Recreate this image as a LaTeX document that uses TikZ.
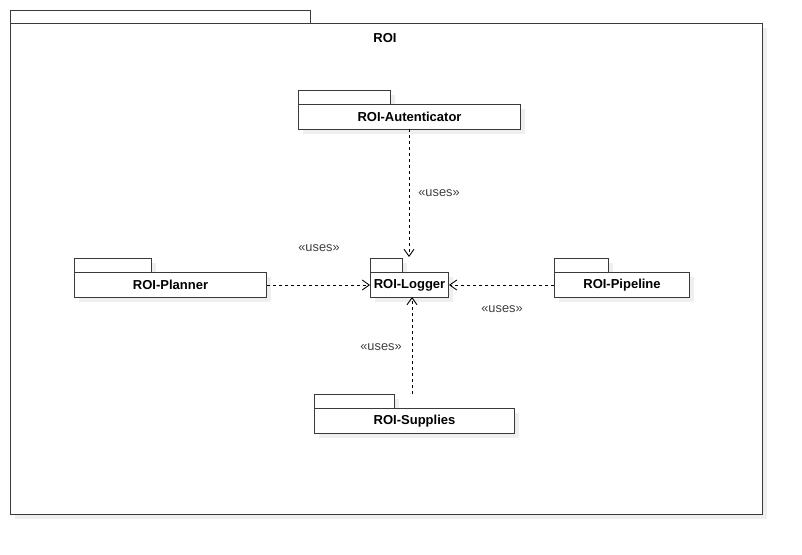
\documentclass[tikz,border=0pt]{standalone}
\usepackage{fontspec}
\setmainfont{Liberation Sans}
\usetikzlibrary{arrows.meta}
\definecolor{shd}{HTML}{EFEFEF}
\definecolor{ln}{HTML}{3A3A3A}
\tikzset{
  pkgbody/.style={draw=ln, fill=white, line width=1pt, inner sep=0pt, font=\fontsize{13}{15}\selectfont\bfseries},
  pkgtab/.style={draw=ln, fill=white, line width=1pt},
  shadowbox/.style={fill=shd, draw=none},
  dep/.style={draw=black, line width=0.9pt, dash pattern=on 3pt off 3pt, -{Straight Barb[length=7pt,width=10pt,line width=0.9pt]}},
  usesl/.style={font=\fontsize{12.8}{15}\selectfont, text=black!75}
}
% \pkgbox{name}{x1}{y1}{x2}{y2}{tab right x}{text}
\newcommand{\pkgbox}[7]{%
  \fill[shadowbox] (#2+5,#3-9) rectangle (#6+5,#3+5);
  \fill[shadowbox] (#2+5,#3+5) rectangle (#4+5,#5+5);
  \draw[pkgtab] (#2,#3-14) rectangle (#6,#3);
  \node[pkgbody, minimum width=#4-#2, minimum height=#5-#3, anchor=north west] (#1) at (#2,#3) {#7};
}
\begin{document}
\begin{tikzpicture}[x=1pt,y=-1pt]
\useasboundingbox (0,0) rectangle (802,554);
% outer package
\fill[shadowbox] (15,28) rectangle (767,519);
\draw[pkgtab] (10,10) rectangle (310,23);
\node[draw=ln, fill=white, line width=1pt, minimum width=752pt, minimum height=491pt, anchor=north west, inner sep=0pt] (roi) at (10,23) {};
\node[font=\fontsize{13}{15}\selectfont\bfseries] (roilabel) at (385,38) {ROI};
% packages
\pkgbox{aut}{298}{104}{520}{129}{390}{ROI-Autenticator}
\pkgbox{pla}{74}{272}{266}{297}{151}{ROI-Planner}
\pkgbox{log}{370}{272}{448}{297}{402}{ROI-Logger}
\pkgbox{pip}{554}{272}{689}{297}{608}{ROI-Pipeline}
\pkgbox{sup}{314}{408}{514}{433}{394}{ROI-Supplies}
\coordinate (logtop) at (409,257);
\coordinate (autbot) at (409,129);
\coordinate (supttop) at (412,394);
\coordinate (logbot) at (412,297);
% dependencies
\draw[dep] (autbot) -- (logtop);
\draw[dep] (pla.east) -- (log.west);
\draw[dep] (pip.west) -- (log.east);
\draw[dep] (supttop) -- (logbot);
% labels
\node[usesl] (u1) at (439,193) {«uses»};
\node[usesl] (u2) at (319,248) {«uses»};
\node[usesl] (u3) at (502,309) {«uses»};
\node[usesl] (u4) at (381,347) {«uses»};
\end{tikzpicture}
\end{document}
